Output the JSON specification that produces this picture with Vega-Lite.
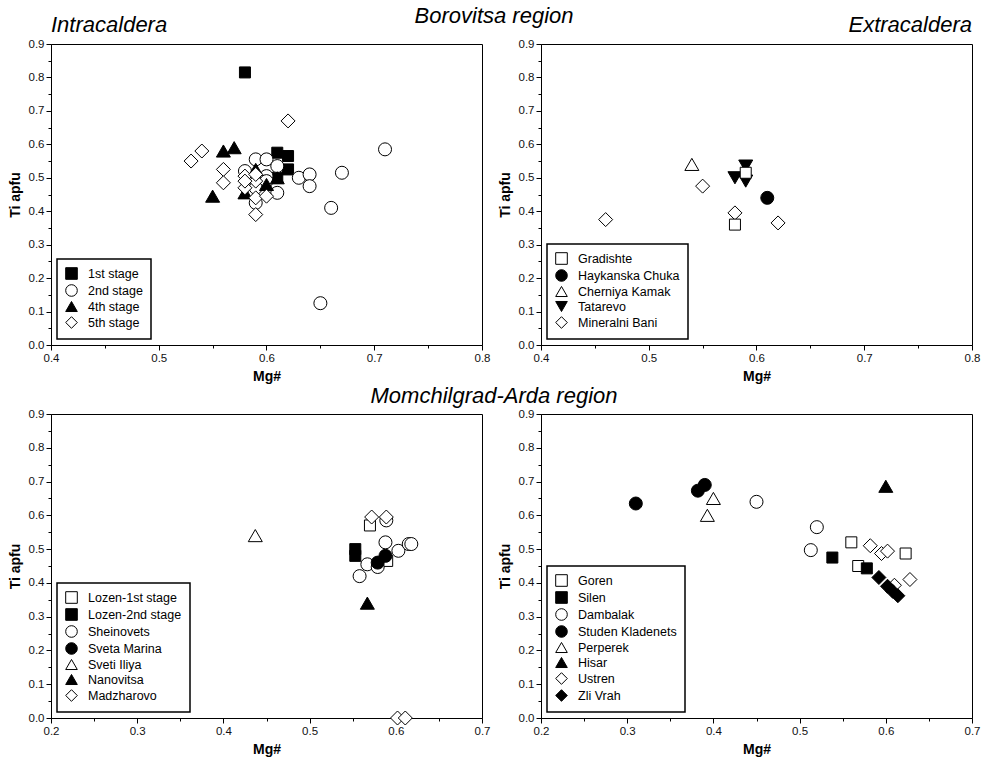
{
  "$schema": "https://vega.github.io/schema/vega-lite/v6.json",
  "background": "white",
  "padding": {"left": 7, "top": 4, "right": 0, "bottom": 0},
  "config": {
    "font": "Liberation Sans",
    "view": {"stroke": "black", "strokeWidth": 1},
    "axis": {
      "grid": false,
      "domainColor": "black",
      "tickColor": "black",
      "labelColor": "#111111",
      "labelFontSize": 11.5,
      "labelPadding": 2,
      "labelFlush": false,
      "titleFontSize": 14,
      "titleFontWeight": "bold",
      "titleColor": "black",
      "titlePadding": 6
    },
    "legend": {
      "orient": "bottom-left",
      "offset": 6,
      "strokeColor": "black",
      "strokeWidth": 1.5,
      "fillColor": "white",
      "padding": 8,
      "labelFontSize": 12.5,
      "labelColor": "black",
      "labelOffset": 10,
      "rowPadding": 0,
      "symbolSize": 135,
      "symbolStrokeWidth": 1
    },
    "title": {"font": "Liberation Sans", "fontStyle": "italic", "fontWeight": "normal", "fontSize": 22, "color": "black"}
  },
  "datasets": {
    "intra": [
      {"group": "1st stage", "mg": 0.58, "ti": 0.815},
      {"group": "1st stage", "mg": 0.61, "ti": 0.575},
      {"group": "1st stage", "mg": 0.62, "ti": 0.565},
      {"group": "1st stage", "mg": 0.62, "ti": 0.525},
      {"group": "1st stage", "mg": 0.61, "ti": 0.5},
      {"group": "2nd stage", "mg": 0.71, "ti": 0.585},
      {"group": "2nd stage", "mg": 0.67, "ti": 0.515},
      {"group": "2nd stage", "mg": 0.66, "ti": 0.41},
      {"group": "2nd stage", "mg": 0.65, "ti": 0.125},
      {"group": "2nd stage", "mg": 0.63, "ti": 0.5},
      {"group": "2nd stage", "mg": 0.64, "ti": 0.51},
      {"group": "2nd stage", "mg": 0.64, "ti": 0.475},
      {"group": "2nd stage", "mg": 0.59, "ti": 0.555},
      {"group": "2nd stage", "mg": 0.6, "ti": 0.555},
      {"group": "2nd stage", "mg": 0.61, "ti": 0.535},
      {"group": "2nd stage", "mg": 0.58, "ti": 0.52},
      {"group": "2nd stage", "mg": 0.6, "ti": 0.505},
      {"group": "2nd stage", "mg": 0.61, "ti": 0.455},
      {"group": "2nd stage", "mg": 0.59, "ti": 0.425},
      {"group": "2nd stage", "mg": 0.6, "ti": 0.49},
      {"group": "2nd stage", "mg": 0.59, "ti": 0.47},
      {"group": "4th stage", "mg": 0.56, "ti": 0.58},
      {"group": "4th stage", "mg": 0.57, "ti": 0.59},
      {"group": "4th stage", "mg": 0.55, "ti": 0.445},
      {"group": "4th stage", "mg": 0.59, "ti": 0.525},
      {"group": "4th stage", "mg": 0.58, "ti": 0.455},
      {"group": "4th stage", "mg": 0.61, "ti": 0.5},
      {"group": "4th stage", "mg": 0.6, "ti": 0.48},
      {"group": "5th stage", "mg": 0.62, "ti": 0.67},
      {"group": "5th stage", "mg": 0.53, "ti": 0.55},
      {"group": "5th stage", "mg": 0.54, "ti": 0.58},
      {"group": "5th stage", "mg": 0.56, "ti": 0.525},
      {"group": "5th stage", "mg": 0.56, "ti": 0.485},
      {"group": "5th stage", "mg": 0.58, "ti": 0.505},
      {"group": "5th stage", "mg": 0.58, "ti": 0.47},
      {"group": "5th stage", "mg": 0.59, "ti": 0.49},
      {"group": "5th stage", "mg": 0.59, "ti": 0.44},
      {"group": "5th stage", "mg": 0.59, "ti": 0.39},
      {"group": "5th stage", "mg": 0.6, "ti": 0.445},
      {"group": "5th stage", "mg": 0.58, "ti": 0.49},
      {"group": "5th stage", "mg": 0.59, "ti": 0.51}
    ],
    "extra": [
      {"group": "Haykanska Chuka", "mg": 0.61, "ti": 0.44},
      {"group": "Cherniya Kamak", "mg": 0.54, "ti": 0.54},
      {"group": "Tatarevo", "mg": 0.59, "ti": 0.535},
      {"group": "Tatarevo", "mg": 0.58, "ti": 0.5},
      {"group": "Tatarevo", "mg": 0.59, "ti": 0.49},
      {"group": "Mineralni Bani", "mg": 0.46, "ti": 0.375},
      {"group": "Mineralni Bani", "mg": 0.55, "ti": 0.475},
      {"group": "Mineralni Bani", "mg": 0.58, "ti": 0.395},
      {"group": "Mineralni Bani", "mg": 0.62, "ti": 0.365},
      {"group": "Gradishte", "mg": 0.58, "ti": 0.36},
      {"group": "Gradishte", "mg": 0.59, "ti": 0.515}
    ],
    "momLeft": [
      {"group": "Lozen-1st stage", "mg": 0.57, "ti": 0.57},
      {"group": "Lozen-1st stage", "mg": 0.59, "ti": 0.465},
      {"group": "Lozen-2nd stage", "mg": 0.553, "ti": 0.5},
      {"group": "Lozen-2nd stage", "mg": 0.553, "ti": 0.48},
      {"group": "Sheinovets", "mg": 0.558, "ti": 0.42},
      {"group": "Sheinovets", "mg": 0.567, "ti": 0.455},
      {"group": "Sheinovets", "mg": 0.588, "ti": 0.52},
      {"group": "Sheinovets", "mg": 0.603, "ti": 0.495},
      {"group": "Sheinovets", "mg": 0.615, "ti": 0.515},
      {"group": "Sheinovets", "mg": 0.618, "ti": 0.515},
      {"group": "Sheinovets", "mg": 0.579, "ti": 0.447},
      {"group": "Sheinovets", "mg": 0.589, "ti": 0.585},
      {"group": "Sveta Marina", "mg": 0.579, "ti": 0.46},
      {"group": "Sveta Marina", "mg": 0.588, "ti": 0.48},
      {"group": "Sveti Iliya", "mg": 0.437, "ti": 0.54},
      {"group": "Nanovitsa", "mg": 0.567, "ti": 0.34},
      {"group": "Madzharovo", "mg": 0.572, "ti": 0.595},
      {"group": "Madzharovo", "mg": 0.589, "ti": 0.595},
      {"group": "Madzharovo", "mg": 0.602, "ti": 0.0},
      {"group": "Madzharovo", "mg": 0.611, "ti": 0.0}
    ],
    "momRight": [
      {"group": "Goren", "mg": 0.56, "ti": 0.52},
      {"group": "Goren", "mg": 0.568, "ti": 0.45},
      {"group": "Goren", "mg": 0.623, "ti": 0.487},
      {"group": "Silen", "mg": 0.538, "ti": 0.475},
      {"group": "Silen", "mg": 0.578, "ti": 0.443},
      {"group": "Dambalak", "mg": 0.45, "ti": 0.64},
      {"group": "Dambalak", "mg": 0.52, "ti": 0.565},
      {"group": "Dambalak", "mg": 0.513, "ti": 0.497},
      {"group": "Studen Kladenets", "mg": 0.31, "ti": 0.635},
      {"group": "Studen Kladenets", "mg": 0.382, "ti": 0.673},
      {"group": "Studen Kladenets", "mg": 0.39, "ti": 0.69},
      {"group": "Perperek", "mg": 0.4, "ti": 0.65},
      {"group": "Perperek", "mg": 0.393, "ti": 0.6},
      {"group": "Hisar", "mg": 0.6, "ti": 0.686},
      {"group": "Ustren", "mg": 0.582, "ti": 0.51},
      {"group": "Ustren", "mg": 0.595, "ti": 0.487},
      {"group": "Ustren", "mg": 0.602, "ti": 0.494},
      {"group": "Ustren", "mg": 0.628, "ti": 0.41},
      {"group": "Ustren", "mg": 0.61, "ti": 0.393},
      {"group": "Zli Vrah", "mg": 0.592, "ti": 0.416},
      {"group": "Zli Vrah", "mg": 0.602, "ti": 0.39},
      {"group": "Zli Vrah", "mg": 0.608, "ti": 0.375},
      {"group": "Zli Vrah", "mg": 0.614, "ti": 0.362}
    ]
  },
  "vconcat": [
    {
      "title": {"text": "Borovitsa region", "anchor": "middle", "offset": -14},
      "spacing": 6,
      "hconcat": [
        {
          "title": {"text": "Intracaldera", "anchor": "start", "frame": "group", "offset": 1},
          "width": 431,
          "height": 301,
          "data": {"name": "intra"},
          "mark": {"type": "point", "filled": true, "stroke": "black", "strokeWidth": 1, "opacity": 1},
          "encoding": {
            "x": {"field": "mg", "type": "quantitative", "scale": {"domain": [0.4, 0.8], "nice": false, "zero": false},
              "axis": {"title": "Mg#", "values": [0.4, 0.45, 0.5, 0.55, 0.6, 0.65, 0.7, 0.75, 0.8],
                "labelExpr": "round(datum.value*100) % 10 === 0 ? format(datum.value, '.1f') : ''",
                "tickSize": {"condition": {"test": "round(datum.value*100) % 10 !== 0", "value": 3}, "value": 5}}},
            "y": {"field": "ti", "type": "quantitative", "scale": {"domain": [0, 0.9], "nice": false},
              "axis": {"title": "Ti apfu", "values": [0, 0.05, 0.1, 0.15, 0.2, 0.25, 0.3, 0.35, 0.4, 0.45, 0.5, 0.55, 0.6, 0.65, 0.7, 0.75, 0.8, 0.85, 0.9],
                "labelExpr": "round(datum.value*100) % 10 === 0 ? format(datum.value, '.1f') : ''",
                "tickSize": {"condition": {"test": "round(datum.value*100) % 10 !== 0", "value": 3}, "value": 5}}},
            "fill": {"field": "group", "type": "nominal",
              "legend": {"title": null, "encode": {"symbols": {"update": {"stroke": {"value": "black"}, "strokeWidth": {"value": 1}}}}},
              "scale": {"domain": ["1st stage", "2nd stage", "4th stage", "5th stage"], "range": ["black", "white", "black", "white"]}},
            "shape": {"field": "group", "type": "nominal",
              "legend": {"title": null, "encode": {"symbols": {"update": {"stroke": {"value": "black"}, "strokeWidth": {"value": 1}}}}},
              "scale": {"domain": ["1st stage", "2nd stage", "4th stage", "5th stage"], "range": ["square", "circle", "triangle-up", "diamond"]}},
            "size": {"condition": [
                {"test": "datum.group === '1st stage'", "value": 121},
                {"test": "datum.group === '2nd stage'", "value": 169}
              ], "value": 196}
          }
        },
        {
          "title": {"text": "Extracaldera", "anchor": "end", "frame": "group", "offset": 1},
          "width": 431,
          "height": 301,
          "data": {"name": "extra"},
          "mark": {"type": "point", "filled": true, "stroke": "black", "strokeWidth": 1, "opacity": 1},
          "encoding": {
            "x": {"field": "mg", "type": "quantitative", "scale": {"domain": [0.4, 0.8], "nice": false, "zero": false},
              "axis": {"title": "Mg#", "values": [0.4, 0.45, 0.5, 0.55, 0.6, 0.65, 0.7, 0.75, 0.8],
                "labelExpr": "round(datum.value*100) % 10 === 0 ? format(datum.value, '.1f') : ''",
                "tickSize": {"condition": {"test": "round(datum.value*100) % 10 !== 0", "value": 3}, "value": 5}}},
            "y": {"field": "ti", "type": "quantitative", "scale": {"domain": [0, 0.9], "nice": false},
              "axis": {"title": "Ti apfu", "values": [0, 0.05, 0.1, 0.15, 0.2, 0.25, 0.3, 0.35, 0.4, 0.45, 0.5, 0.55, 0.6, 0.65, 0.7, 0.75, 0.8, 0.85, 0.9],
                "labelExpr": "round(datum.value*100) % 10 === 0 ? format(datum.value, '.1f') : ''",
                "tickSize": {"condition": {"test": "round(datum.value*100) % 10 !== 0", "value": 3}, "value": 5}}},
            "fill": {"field": "group", "type": "nominal",
              "legend": {"title": null, "encode": {"symbols": {"update": {"stroke": {"value": "black"}, "strokeWidth": {"value": 1}}}}},
              "scale": {"domain": ["Gradishte", "Haykanska Chuka", "Cherniya Kamak", "Tatarevo", "Mineralni Bani"], "range": ["white", "black", "white", "black", "white"]}},
            "shape": {"field": "group", "type": "nominal",
              "legend": {"title": null, "encode": {"symbols": {"update": {"stroke": {"value": "black"}, "strokeWidth": {"value": 1}}}}},
              "scale": {"domain": ["Gradishte", "Haykanska Chuka", "Cherniya Kamak", "Tatarevo", "Mineralni Bani"], "range": ["square", "circle", "triangle-up", "triangle-down", "diamond"]}},
            "size": {"condition": [
                {"test": "datum.group === 'Gradishte'", "value": 121},
                {"test": "datum.group === 'Haykanska Chuka'", "value": 169}
              ], "value": 196}
          }
        }
      ],
      "resolve": {"scale": {"x": "independent", "y": "independent", "fill": "independent", "shape": "independent"}, "legend": {"fill": "independent", "shape": "independent"}}
    },
    {
      "title": {"text": "Momchilgrad-Arda region", "anchor": "middle", "offset": 0},
      "spacing": 6,
      "hconcat": [
        {
          "width": 431,
          "height": 304,
          "data": {"name": "momLeft"},
          "mark": {"type": "point", "filled": true, "stroke": "black", "strokeWidth": 1, "opacity": 1, "clip": false},
          "encoding": {
            "x": {"field": "mg", "type": "quantitative", "scale": {"domain": [0.2, 0.7], "nice": false, "zero": false},
              "axis": {"title": "Mg#", "values": [0.2, 0.25, 0.3, 0.35, 0.4, 0.45, 0.5, 0.55, 0.6, 0.65, 0.7],
                "labelExpr": "round(datum.value*100) % 10 === 0 ? format(datum.value, '.1f') : ''",
                "tickSize": {"condition": {"test": "round(datum.value*100) % 10 !== 0", "value": 3}, "value": 5}}},
            "y": {"field": "ti", "type": "quantitative", "scale": {"domain": [0, 0.9], "nice": false},
              "axis": {"title": "Ti apfu", "values": [0, 0.05, 0.1, 0.15, 0.2, 0.25, 0.3, 0.35, 0.4, 0.45, 0.5, 0.55, 0.6, 0.65, 0.7, 0.75, 0.8, 0.85, 0.9],
                "labelExpr": "round(datum.value*100) % 10 === 0 ? format(datum.value, '.1f') : ''",
                "tickSize": {"condition": {"test": "round(datum.value*100) % 10 !== 0", "value": 3}, "value": 5}}},
            "fill": {"field": "group", "type": "nominal",
              "legend": {"title": null, "encode": {"symbols": {"update": {"stroke": {"value": "black"}, "strokeWidth": {"value": 1}}}}},
              "scale": {"domain": ["Lozen-1st stage", "Lozen-2nd stage", "Sheinovets", "Sveta Marina", "Sveti Iliya", "Nanovitsa", "Madzharovo"], "range": ["white", "black", "white", "black", "white", "black", "white"]}},
            "shape": {"field": "group", "type": "nominal",
              "legend": {"title": null, "encode": {"symbols": {"update": {"stroke": {"value": "black"}, "strokeWidth": {"value": 1}}}}},
              "scale": {"domain": ["Lozen-1st stage", "Lozen-2nd stage", "Sheinovets", "Sveta Marina", "Sveti Iliya", "Nanovitsa", "Madzharovo"], "range": ["square", "square", "circle", "circle", "triangle-up", "triangle-up", "diamond"]}},
            "size": {"condition": [
                {"test": "indexof(['Lozen-1st stage', 'Lozen-2nd stage'], datum.group) >= 0", "value": 121},
                {"test": "indexof(['Sheinovets', 'Sveta Marina'], datum.group) >= 0", "value": 169}
              ], "value": 196}
          }
        },
        {
          "width": 431,
          "height": 304,
          "data": {"name": "momRight"},
          "mark": {"type": "point", "filled": true, "stroke": "black", "strokeWidth": 1, "opacity": 1},
          "encoding": {
            "x": {"field": "mg", "type": "quantitative", "scale": {"domain": [0.2, 0.7], "nice": false, "zero": false},
              "axis": {"title": "Mg#", "values": [0.2, 0.25, 0.3, 0.35, 0.4, 0.45, 0.5, 0.55, 0.6, 0.65, 0.7],
                "labelExpr": "round(datum.value*100) % 10 === 0 ? format(datum.value, '.1f') : ''",
                "tickSize": {"condition": {"test": "round(datum.value*100) % 10 !== 0", "value": 3}, "value": 5}}},
            "y": {"field": "ti", "type": "quantitative", "scale": {"domain": [0, 0.9], "nice": false},
              "axis": {"title": "Ti apfu", "values": [0, 0.05, 0.1, 0.15, 0.2, 0.25, 0.3, 0.35, 0.4, 0.45, 0.5, 0.55, 0.6, 0.65, 0.7, 0.75, 0.8, 0.85, 0.9],
                "labelExpr": "round(datum.value*100) % 10 === 0 ? format(datum.value, '.1f') : ''",
                "tickSize": {"condition": {"test": "round(datum.value*100) % 10 !== 0", "value": 3}, "value": 5}}},
            "fill": {"field": "group", "type": "nominal",
              "legend": {"title": null, "encode": {"symbols": {"update": {"stroke": {"value": "black"}, "strokeWidth": {"value": 1}}}}},
              "scale": {"domain": ["Goren", "Silen", "Dambalak", "Studen Kladenets", "Perperek", "Hisar", "Ustren", "Zli Vrah"], "range": ["white", "black", "white", "black", "white", "black", "white", "black"]}},
            "shape": {"field": "group", "type": "nominal",
              "legend": {"title": null, "encode": {"symbols": {"update": {"stroke": {"value": "black"}, "strokeWidth": {"value": 1}}}}},
              "scale": {"domain": ["Goren", "Silen", "Dambalak", "Studen Kladenets", "Perperek", "Hisar", "Ustren", "Zli Vrah"], "range": ["square", "square", "circle", "circle", "triangle-up", "triangle-up", "diamond", "diamond"]}},
            "size": {"condition": [
                {"test": "indexof(['Goren', 'Silen'], datum.group) >= 0", "value": 121},
                {"test": "indexof(['Dambalak', 'Studen Kladenets'], datum.group) >= 0", "value": 169}
              ], "value": 196}
          }
        }
      ],
      "resolve": {"scale": {"x": "independent", "y": "independent", "fill": "independent", "shape": "independent"}, "legend": {"fill": "independent", "shape": "independent"}}
    }
  ],
  "spacing": 0,
  "resolve": {"scale": {"x": "independent", "y": "independent", "fill": "independent", "shape": "independent"}, "legend": {"fill": "independent", "shape": "independent"}}
}
